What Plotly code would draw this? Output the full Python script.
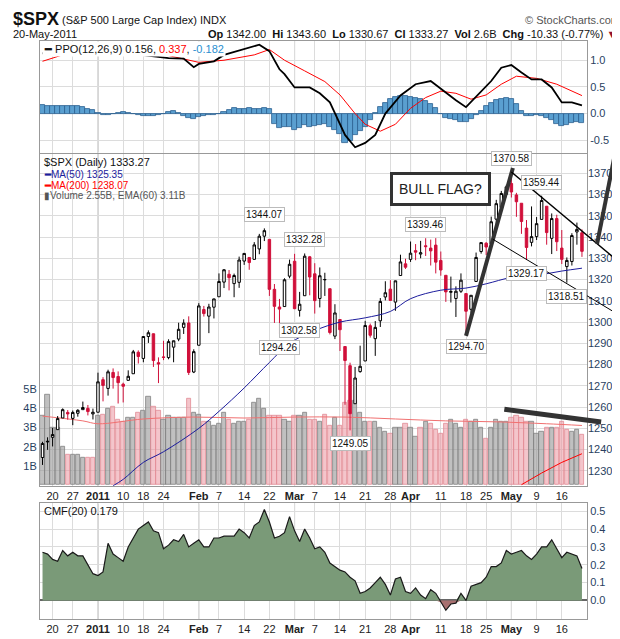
import plotly.graph_objects as go

dates = ["Dec16","Dec17","Dec20","Dec21","Dec22","Dec23","Dec27","Dec28","Dec29","Dec30","Dec31",
 "Jan3","Jan4","Jan5","Jan6","Jan7","Jan10","Jan11","Jan12","Jan13","Jan14","Jan18","Jan19","Jan20","Jan21","Jan24","Jan25","Jan26","Jan27","Jan28","Jan31",
 "Feb1","Feb2","Feb3","Feb4","Feb7","Feb8","Feb9","Feb10","Feb11","Feb14","Feb15","Feb16","Feb17","Feb18","Feb22","Feb23","Feb24","Feb25","Feb28",
 "Mar1","Mar2","Mar3","Mar4","Mar7","Mar8","Mar9","Mar10","Mar11","Mar14","Mar15","Mar16","Mar17","Mar18","Mar21","Mar22","Mar23","Mar24","Mar25","Mar28","Mar29","Mar30","Mar31",
 "Apr1","Apr4","Apr5","Apr6","Apr7","Apr8","Apr11","Apr12","Apr13","Apr14","Apr15","Apr18","Apr19","Apr20","Apr21","Apr25","Apr26","Apr27","Apr28","Apr29",
 "May2","May3","May4","May5","May6","May9","May10","May11","May12","May13","May16","May17","May18","May19","May20"]
opens = [1236.3,1243.6,1245.8,1249.4,1254.9,1257.5,1254.7,1257.1,1258.8,1259.4,1256.8,
 1257.6,1272.9,1268.8,1276.3,1274.4,1270.8,1272.6,1275.7,1285.8,1282.9,1293.2,1294.5,1280.9,1283.6,1283.3,1288.2,1292.0,1297.5,1299.6,1276.5,
 1289.1,1305.9,1302.8,1307.0,1311.9,1318.8,1322.5,1318.1,1318.7,1328.7,1330.4,1329.5,1334.4,1340.4,1338.9,1315.4,1307.1,1307.3,1321.6,
 1328.6,1305.5,1312.4,1330.7,1322.7,1311.1,1319.9,1315.7,1293.4,1301.2,1288.5,1279.5,1261.6,1276.7,1281.7,1298.3,1292.2,1300.6,1311.8,1315.5,1309.4,1321.9,1327.4,
 1329.5,1333.6,1332.0,1335.9,1334.8,1336.2,1329.0,1322.0,1314.0,1311.1,1314.5,1313.4,1306.0,1319.1,1333.2,1337.1,1336.8,1348.4,1353.9,1360.1,
 1365.2,1359.8,1355.9,1344.2,1337.5,1340.2,1348.3,1354.5,1339.4,1348.7,1334.8,1326.1,1328.5,1342.4,1342.0]
highs = [1243.7,1245.8,1250.2,1255.8,1259.4,1258.6,1258.4,1259.0,1262.6,1261.0,1259.3,
 1276.2,1274.1,1277.6,1278.2,1276.8,1271.5,1277.3,1286.9,1286.7,1293.2,1296.1,1294.6,1283.4,1291.2,1291.9,1291.3,1299.7,1301.3,1302.7,1287.2,
 1308.9,1307.6,1308.6,1311.0,1322.9,1324.9,1324.5,1322.8,1330.8,1332.1,1330.4,1337.6,1341.5,1344.07,1338.9,1317.9,1310.9,1320.6,1329.4,
 1332.1,1314.2,1332.28,1331.1,1327.7,1325.7,1323.2,1315.7,1308.4,1301.2,1288.5,1280.9,1278.9,1288.9,1300.6,1299.3,1300.5,1311.3,1319.2,1319.7,1319.5,1331.7,1329.8,
 1337.9,1336.7,1338.2,1339.46,1338.8,1339.5,1333.2,1322.0,1321.4,1316.8,1322.9,1313.4,1312.7,1332.7,1337.5,1337.6,1349.6,1357.5,1361.7,1364.6,
 1370.58,1360.8,1355.9,1348.0,1354.4,1349.4,1359.44,1354.5,1351.1,1350.5,1343.3,1330.4,1341.8,1346.8,1343.6]
lows = [1232.8,1239.9,1241.5,1249.4,1254.9,1254.1,1251.5,1255.5,1258.8,1256.1,1254.2,
 1257.6,1262.7,1265.4,1268.7,1261.7,1262.2,1272.6,1275.7,1280.5,1281.1,1290.2,1278.9,1271.3,1282.1,1282.5,1281.1,1291.0,1294.4,1275.1,1276.0,
 1289.1,1302.6,1294.8,1301.7,1311.9,1316.0,1314.9,1311.7,1316.1,1326.9,1324.6,1329.5,1331.9,1338.1,1312.3,1299.6,1294.26,1307.3,1320.6,
 1306.1,1302.58,1312.4,1312.6,1304.0,1306.9,1312.3,1294.2,1292.0,1286.4,1261.1,1249.05,1261.6,1276.2,1281.7,1292.7,1284.1,1297.7,1310.2,1310.2,1305.3,1321.9,1325.0,
 1328.3,1329.1,1330.0,1331.1,1326.6,1322.9,1321.8,1309.5,1309.2,1302.4,1313.7,1294.70,1304.0,1319.1,1332.2,1331.5,1336.7,1344.3,1352.9,1358.7,
 1358.6,1349.5,1341.5,1329.17,1335.6,1338.6,1348.3,1336.4,1332.0,1333.4,1327.3,1318.51,1326.6,1336.4,1330.67]
closes = [1242.9,1243.9,1247.1,1254.6,1258.8,1256.8,1257.5,1258.5,1259.8,1257.9,1257.6,
 1271.9,1270.2,1276.6,1273.9,1271.5,1269.8,1274.5,1286.0,1283.8,1293.2,1295.0,1281.9,1280.3,1283.4,1290.8,1291.2,1296.6,1299.5,1276.3,1286.1,
 1307.6,1304.0,1307.1,1310.9,1319.1,1324.6,1320.9,1321.9,1329.2,1332.3,1328.0,1336.3,1340.4,1343.0,1315.4,1307.4,1306.1,1319.9,1327.2,
 1306.3,1308.4,1331.0,1321.2,1310.1,1321.8,1320.0,1295.1,1304.3,1296.4,1281.9,1256.9,1273.7,1279.2,1298.4,1293.8,1297.5,1309.7,1313.8,1310.2,1319.4,1328.3,1325.8,
 1332.4,1332.9,1332.6,1335.5,1333.5,1328.2,1324.5,1314.2,1314.4,1314.5,1319.7,1305.1,1312.6,1330.4,1337.4,1335.3,1347.2,1355.7,1360.5,1363.6,
 1361.2,1356.6,1347.3,1335.1,1340.2,1346.3,1357.2,1342.1,1348.7,1337.8,1329.5,1329.0,1340.7,1343.6,1333.27]
volume_b = [3.6,4.7,3.0,3.0,2.0,1.6,1.6,1.6,1.4,1.4,1.4,
 3.6,3.7,4.0,4.1,3.4,3.3,3.5,3.5,3.8,3.9,4.6,4.1,3.9,3.4,3.6,3.5,3.5,3.5,4.5,3.8,
 3.7,3.3,3.3,3.1,3.2,3.8,3.4,3.2,3.3,3.3,3.4,4.3,4.5,4.0,3.6,3.6,3.6,3.4,3.3,
 3.6,3.6,3.8,3.4,3.4,3.3,3.7,3.1,3.5,3.1,4.3,4.4,4.4,3.8,3.3,3.3,3.3,3.0,2.8,2.7,3.0,3.0,3.2,
 3.0,2.5,3.0,3.3,3.2,2.9,2.7,3.2,3.4,3.2,3.0,3.4,3.3,3.4,3.0,2.4,3.0,3.4,3.3,3.3,
 3.5,3.6,3.5,3.3,3.3,2.7,2.8,3.0,3.0,3.0,3.3,2.9,2.8,2.9,2.6]
vol_ema_idx = [0,8,11,20,30,40,50,60,70,80,90,100,107]
vol_ema = [3.6,3.35,3.2,3.45,3.55,3.5,3.55,3.55,3.45,3.35,3.3,3.2,3.11]
ma50_idx = [14,16,20,24,31,35,40,45,49,54,59,64,69,73,79,84,88,93,98,103,107]
ma50 = [1223,1226,1234,1239,1250,1258,1269,1281,1290,1296,1300,1302,1305,1311,1315,1316,1318,1321,1322,1324,1325.35]
ma200_idx = [95,99,103,107]
ma200 = [1223.5,1229,1234,1238.07]

ppo_idx = [0,3,7,11,17,23,25,28,30,31,34,36,39,43,45,47,48,50,53,55,57,58,60,62,64,66,68,71,74,77,79,82,84,86,89,91,93,95,97,99,101,103,105,107]
ppo = [1.13,1.18,1.24,1.2,1.13,1.07,1.04,1.03,0.87,0.93,0.98,1.1,1.18,1.29,1.17,0.83,0.74,0.49,0.49,0.38,0.21,0.0,-0.40,-0.63,-0.55,-0.40,0.0,0.34,0.55,0.61,0.46,0.25,0.12,0.31,0.61,0.86,0.91,0.77,0.64,0.64,0.49,0.21,0.21,0.156]
sig_idx = [0,4,8,15,22,27,31,36,42,45,48,52,56,59,62,64,67,70,73,76,79,82,85,88,91,94,98,102,105,107]
sig = [0.98,1.1,1.2,1.2,1.15,1.05,0.96,1.0,1.1,1.2,1.0,0.8,0.6,0.35,0.0,-0.2,-0.33,-0.2,0.1,0.3,0.42,0.38,0.27,0.35,0.55,0.7,0.66,0.55,0.42,0.337]
hist = [0.16,0.15,0.14,0.14,0.14,0.15,0.15,0.14,0.12,0.09,0.06,
 0.02,-0.02,-0.03,0.0,0.02,0.03,0.02,0.0,-0.03,-0.05,
 -0.05,-0.04,-0.02,0.0,0.03,0.05,0.02,-0.04,-0.08,-0.10,
 -0.06,-0.05,-0.03,-0.02,0.0,0.03,0.07,0.10,0.09,0.09,
 0.10,0.08,0.09,0.10,0.09,-0.20,-0.27,
 -0.26,-0.25,-0.30,-0.27,-0.22,-0.25,-0.24,-0.22,-0.20,-0.25,
 -0.30,-0.38,-0.55,-0.52,-0.40,-0.32,-0.25,-0.12,0.02,0.12,
 0.20,0.28,0.31,0.33,0.33,0.32,0.30,0.28,0.24,0.18,
 0.10,0.0,-0.08,-0.10,-0.12,-0.15,-0.15,-0.10,-0.03,0.05,
 0.14,0.20,0.26,0.28,0.29,0.28,0.18,0.04,-0.04,-0.05,
 -0.02,-0.05,-0.08,-0.12,-0.20,-0.24,-0.22,-0.18,-0.16,-0.182]
cmf = [.27,.26,.23,.22,.28,.25,.27,.25,.25,.2,
 .15,.14,.16,.32,.26,.24,.22,.30,.35,.40,
 .42,.44,.39,.38,.29,.31,.34,.33,.37,.30,
 .32,.34,.30,.30,.35,.35,.36,.36,.36,.40,
 .38,.35,.42,.44,.51,.44,.35,.36,.38,.47,
 .39,.33,.40,.35,.29,.30,.27,.21,.19,.17,
 .16,.13,.11,.04,.05,.07,.10,.13,.09,.03,
 .12,.13,.05,.04,.07,.03,.01,.06,.04,-.01,
 -.055,-.02,-.015,.04,.0,.08,.09,.10,.13,.19,
 .19,.21,.28,.26,.27,.28,.25,.23,.26,.30,
 .30,.34,.29,.24,.27,.26,.25,.179]

tick_idx = [2,6,11,16,20,24,31,35,40,45,50,54,59,64,69,73,79,84,88,93,98,103]
tick_txt = ["20","27","<b>2011</b>","10","18","24","<b>Feb</b>","7","14","22","<b>Mar</b>","7","14","21","28","<b>Apr</b>","11","18","25","<b>May</b>","9","16"]
month_idx = [11,31,50,73,93]

peak_labels = [(44,"1344.07"),(52,"1332.28"),(76,"1339.46"),(93,"1370.58"),(99,"1359.44")]
low_labels = [(47,"1294.26"),(51,"1302.58"),(61,"1249.05"),(84,"1294.70"),(96,"1329.17"),(104,"1318.51")]

FONT = "Liberation Sans"
N = len(closes)
x = list(range(N))
XR = [-0.5, 108]
PR = [1223, 1379.2]
MAIN_DOM = [0.2305, 0.805]

def to_paper(i, p):
    return ((i - XR[0]) / (XR[1] - XR[0]),
            MAIN_DOM[0] + (p - PR[0]) / (PR[1] - PR[0]) * (MAIN_DOM[1] - MAIN_DOM[0]))

vol_col = ["rgba(150,150,150,0.6)" if i == 0 or closes[i] >= closes[i-1] else "rgba(235,150,160,0.55)" for i in range(N)]
vol_line = ["rgb(130,130,130)" if c.startswith("rgba(150") else "rgb(225,140,150)" for c in vol_col]

fig = go.Figure()
fig.add_bar(x=x, y=hist, xaxis="x", yaxis="y", marker=dict(color="#5a9fd0", line=dict(color="#2b5f8f", width=0.8)), width=1)
fig.add_scatter(x=sig_idx, y=sig, xaxis="x", yaxis="y", mode="lines", line=dict(color="red", width=1))
fig.add_scatter(x=ppo_idx, y=ppo, xaxis="x", yaxis="y", mode="lines", line=dict(color="black", width=1.8))

fig.add_bar(x=x, y=volume_b, xaxis="x2", yaxis="y2", marker=dict(color=vol_col, line=dict(color=vol_line, width=0.8)), width=0.85)
fig.add_scatter(x=vol_ema_idx, y=vol_ema, xaxis="x2", yaxis="y2", mode="lines", line=dict(color="#f07070", width=1, shape="spline"))

fig.add_candlestick(x=x, open=opens, high=highs, low=lows, close=closes, xaxis="x2", yaxis="y3",
    increasing=dict(line=dict(color="black", width=1), fillcolor="white"),
    decreasing=dict(line=dict(color="#d0103a", width=1), fillcolor="#d0103a"), whiskerwidth=0)
fig.add_scatter(x=ma50_idx, y=ma50, xaxis="x2", yaxis="y3", mode="lines", line=dict(color="#1c1c9c", width=1, shape="spline"))
fig.add_scatter(x=ma200_idx, y=ma200, xaxis="x2", yaxis="y3", mode="lines", line=dict(color="red", width=1))

pos = [max(v, 0) for v in cmf]
neg = [min(v, 0) for v in cmf]
fig.add_scatter(x=x, y=neg, xaxis="x3", yaxis="y4", mode="lines", fill="tozeroy", fillcolor="#a87070", line=dict(width=0))
fig.add_scatter(x=x, y=pos, xaxis="x3", yaxis="y4", mode="lines", fill="tozeroy", fillcolor="#7a9a78", line=dict(width=0))
fig.add_scatter(x=x, y=cmf, xaxis="x3", yaxis="y4", mode="lines", line=dict(color="#1a1a1a", width=1.2))

gridc = "#dcdcdc"
xcommon = dict(range=XR, tickvals=tick_idx, ticktext=tick_txt, showgrid=True, gridcolor=gridc, zeroline=False,
               showline=True, mirror=True, linecolor="#999", tickfont=dict(family=FONT, size=11, color="#222"), ticks="")
fig.update_layout(
    width=620, height=639, margin=dict(l=32, r=41, t=33, b=16), paper_bgcolor="white", plot_bgcolor="white",
    showlegend=False, bargap=0, barmode="overlay",
    xaxis=dict(xcommon, domain=[0, 1], anchor="y", showticklabels=False),
    xaxis2=dict(xcommon, domain=[0, 1], anchor="y2", matches="x", rangeslider=dict(visible=False)),
    xaxis3=dict(xcommon, domain=[0, 1], anchor="y4", matches="x"),
    yaxis=dict(domain=[0.807, 1], range=[-0.73, 1.36], side="right", tickvals=[-0.5, 0, 0.5, 1.0], ticktext=["-0.5", "0.0", "0.5", "1.0"],
               gridcolor=gridc, zeroline=False, showline=True, mirror=True, linecolor="#999", tickfont=dict(family=FONT, size=11)),
    yaxis2=dict(domain=MAIN_DOM, range=[-0.05, 17.35], side="left", anchor="x2", tickvals=[1, 2, 3, 4, 5], ticktext=["1B", "2B", "3B", "4B", "5B"],
                showgrid=False, zeroline=False, showline=True, mirror=True, linecolor="#999", tickfont=dict(family=FONT, size=11)),
    yaxis3=dict(range=PR, overlaying="y2", side="right", anchor="x2", dtick=10, tick0=1230, gridcolor=gridc, zeroline=False,
                tickfont=dict(family=FONT, size=11), showline=False),
    yaxis4=dict(domain=[0, 0.2], range=[-0.104, 0.544], side="right", anchor="x3", tickvals=[0, .1, .2, .3, .4, .5],
                tickformat=".1f", gridcolor=gridc, zeroline=True, zerolinecolor="#666", showline=True, mirror=True, linecolor="#999",
                tickfont=dict(family=FONT, size=11)),
)

shapes = []
for m in month_idx:
    for xr, yr in [("x", "y domain"), ("x2", "y2 domain"), ("x3", "y4 domain")]:
        shapes.append(dict(type="line", xref=xr, yref=yr, x0=m, x1=m, y0=0, y1=1, line=dict(color="#aaa", width=1), layer="below"))
def seg(a, b, w, c="#333"):
    x0, y0 = to_paper(*a); x1, y1 = to_paper(*b)
    shapes.append(dict(type="line", xref="paper", yref="paper", x0=x0, y0=y0, x1=x1, y1=y1, line=dict(color=c, width=w)))
seg((84, 1293.5), (93.3, 1372.5), 4)
seg((93, 1370.6), (116, 1325), 1.5, "black")
seg((89.3, 1339), (116, 1301), 1, "black")
seg((110, 1336.8), (115.1, 1397.6), 4)
seg((91.6, 1259), (110.8, 1253), 5)
fig.update_layout(shapes=shapes)

ann = []
def A(xp, yp, text, size=11, color="#111", xa="left", ya="middle", **kw):
    ann.append(dict(x=xp, y=yp, xref="paper", yref="paper", text=text, showarrow=False, xanchor=xa, yanchor=ya,
                    font=dict(family=FONT, size=size, color=color), **kw))
def py(px):
    return (623 - px) / 590
def pxx(px):
    return (px - 32) / 548
A(pxx(3), py(11), "<b>$SPX</b>", size=18)
A(pxx(52), py(12), "(S&P 500 Large Cap Index) INDX", size=11)
A(pxx(615), py(12), "© StockCharts.com", size=11, color="#555", xa="right")
A(pxx(3), py(26), "20-May-2011", size=11)
A(pxx(612), py(26), "<b>Op</b> 1342.00  <b>Hi</b> 1343.60  <b>Lo</b> 1330.67  <b>Cl</b> 1333.27  <b>Vol</b> 2.6B  <b>Chg</b> -10.33 (-0.77%) <span style='color:#901030'>▼</span>", size=11, xa="right")
A(pxx(34), py(41), "<b>━</b> PPO(12,26,9) 0.156, <span style='color:red'>0.337</span>, <span style='color:#2a8fd0'>-0.182</span>", size=11, bgcolor="white")
A(pxx(34), py(157), "$SPX (Daily) 1333.27", size=11)
A(pxx(34), py(169), "<b>━</b>MA(50) 1325.35", size=10, color="#1c1c9c")
A(pxx(34), py(180), "<b>━</b>MA(200) 1238.07", size=10, color="red")
A(pxx(34), py(191), "▮Volume 2.55B, EMA(60) 3.11B", size=10, color="#555")
A(pxx(34), py(513), "CMF(20) 0.179", size=11)
fig.update_layout(annotations=ann)
for i, t in peak_labels:
    fig.add_annotation(x=i, y=highs[i], xref="x2", yref="y3", text=t, showarrow=False, yanchor="bottom", yshift=6,
                       font=dict(family=FONT, size=10, color="#111"), bgcolor="white", bordercolor="#bbb", borderwidth=1, borderpad=1)
for i, t in low_labels:
    fig.add_annotation(x=i, y=lows[i], xref="x2", yref="y3", text=t, showarrow=False, yanchor="top", yshift=-6,
                       font=dict(family=FONT, size=10, color="#111"), bgcolor="white", bordercolor="#bbb", borderwidth=1, borderpad=1)
fig.add_annotation(x=79, y=1362.5, xref="x2", yref="y3", text="BULL FLAG?", showarrow=False,
                   font=dict(family=FONT, size=14, color="#222"), bgcolor="white", bordercolor="#333", borderwidth=3, borderpad=6)

fig.write_html("out.html")
